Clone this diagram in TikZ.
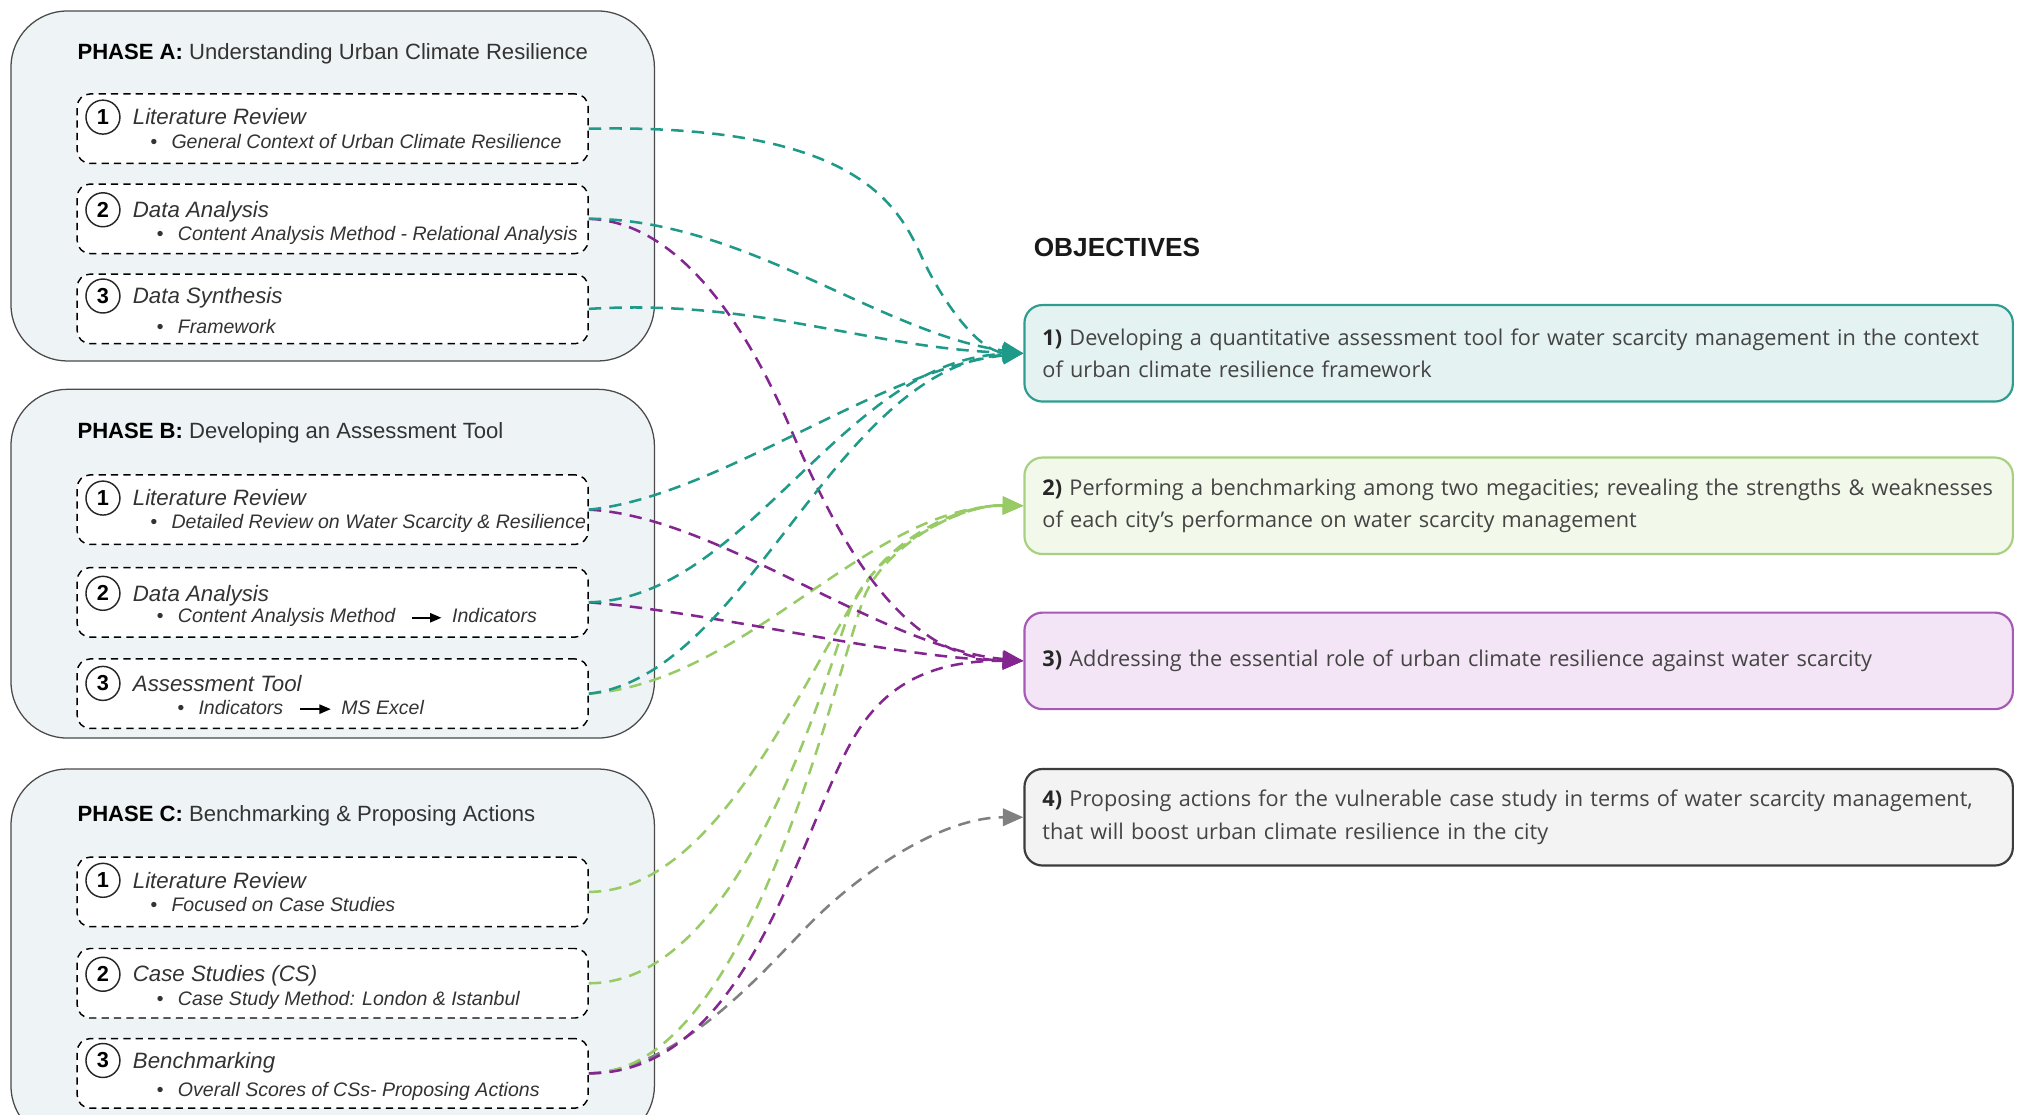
\documentclass[tikz,border=0pt]{standalone}
\usepackage{fontspec}
\setmainfont{Liberation Sans}
\newfontfamily\objfont{Open Sans}
\usetikzlibrary{arrows.meta}
\definecolor{phasefill}{HTML}{EEF3F6}
\definecolor{phaseline}{HTML}{4A4A4A}
\definecolor{textgray}{HTML}{333333}
\definecolor{objtext}{HTML}{444444}
\definecolor{tealline}{HTML}{1F9A88}
\definecolor{greenline}{HTML}{98CB66}
\definecolor{purpleline}{HTML}{83268F}
\definecolor{grayline}{HTML}{808080}
\definecolor{oonefill}{HTML}{E4F3F1}
\definecolor{oonedraw}{HTML}{2E9C8E}
\definecolor{otwofill}{HTML}{F2F8EA}
\definecolor{otwodraw}{HTML}{A7D180}
\definecolor{othreefill}{HTML}{F3E5F6}
\definecolor{othreedraw}{HTML}{A659B7}
\definecolor{ofourfill}{HTML}{F3F3F3}
\definecolor{ofourdraw}{HTML}{3C3C3C}
\begin{document}
\begin{tikzpicture}[x=0.25mm,y=-0.25mm,
  phase/.style={draw=phaseline, fill=phasefill, line width=0.7pt, rounded corners=11mm, anchor=north west, minimum width=125mm},
  stepbox/.style={draw=black, fill=white, line width=0.8pt, dash pattern=on 1.4mm off 1mm, rounded corners=2.5mm, minimum width=99.25mm, minimum height=13.5mm},
  numcirc/.style={circle, draw=black!85, line width=0.8pt, minimum size=6.6mm, inner sep=0pt, font=\bfseries\fontsize{12}{12}\selectfont},
  phasetitle/.style={anchor=base west, inner sep=0pt, text=textgray, font=\fontsize{12.2}{14}\selectfont},
  steptitle/.style={anchor=base west, inner sep=0pt, text=textgray, font=\itshape\fontsize{12.3}{14}\selectfont},
  steptext/.style={anchor=base west, inner sep=0pt, text=textgray, font=\itshape\fontsize{10.8}{13}\selectfont},
  bullet/.style={steptext, execute at begin node={\llap{\textbullet\hspace{2.8mm}}}},
  inarrow/.style={line width=0.9pt, -{Triangle[length=2.2mm,width=1.8mm]}},
  objbox/.style={rounded corners=3.5mm, line width=1.2pt, minimum width=191.5mm, minimum height=18.75mm, text width=185mm, inner xsep=3.5mm, align=left, text=objtext, font=\objfont\fontsize{12}{17.8}\selectfont},
  link/.style={line width=1.4pt, dash pattern=on 2.4mm off 1.6mm, -{Triangle[length=4mm,width=3.4mm]}}
]
\useasboundingbox (0,0) rectangle (1568,866);

\node[phase, minimum height=68mm] (phaseA) at (8,8) {};
\node[phase, minimum height=67.75mm] (phaseB) at (8,302) {};
\node[phase, minimum height=72.5mm] (phaseC) at (8,597) {};

\node[phasetitle] (titleA) at (60,46) {\textcolor{black}{\bfseries PHASE A:} Understanding Urban Climate Resilience};
\node[phasetitle] (titleB) at (60,341) {\textcolor{black}{\bfseries PHASE B:} Developing an Assessment Tool};
\node[phasetitle] (titleC) at (60,638) {\textcolor{black}{\bfseries PHASE C:} Benchmarking \& Proposing Actions};

\node[stepbox] (a1) at (258.5,100) {};
\node[stepbox] (a2) at (258.5,170) {};
\node[stepbox] (a3) at (258.5,240) {};
\node[stepbox] (b1) at (258.5,396) {};
\node[stepbox] (b2) at (258.5,468) {};
\node[stepbox] (b3) at (258.5,539) {};
\node[stepbox] (c1) at (258.5,693) {};
\node[stepbox] (c2) at (258.5,764) {};
\node[stepbox] (c3) at (258.5,834) {};

\node[numcirc] (a1num) at (80,91) {1};
\node[numcirc] (a2num) at (80,163) {2};
\node[numcirc] (a3num) at (80,230) {3};
\node[numcirc] (b1num) at (80,387) {1};
\node[numcirc] (b2num) at (80,461) {2};
\node[numcirc] (b3num) at (80,531) {3};
\node[numcirc] (c1num) at (80,684) {1};
\node[numcirc] (c2num) at (80,757) {2};
\node[numcirc] (c3num) at (80,824) {3};

\node[steptitle] (a1title) at (103,97) {Literature Review};
\node[steptitle] (a2title) at (103,169) {Data Analysis};
\node[steptitle] (a3title) at (103,236) {Data Synthesis};
\node[steptitle] (b1title) at (103,393) {Literature Review};
\node[steptitle] (b2title) at (103,467) {Data Analysis};
\node[steptitle] (b3title) at (103,537) {Assessment Tool};
\node[steptitle] (c1title) at (103,690) {Literature Review};
\node[steptitle] (c2title) at (103,763) {Case Studies (CS)};
\node[steptitle] (c3title) at (103,830) {Benchmarking};

\node[bullet] (a1text) at (133,115) {General Context of Urban Climate Resilience};
\node[bullet] (a2text) at (138,187) {Content Analysis Method - Relational Analysis};
\node[bullet] (a3text) at (138,259) {Framework};
\node[bullet] (b1text) at (133,411) {Detailed Review on Water Scarcity \& Resilience};
\node[bullet] (b2text) at (138,484) {Content Analysis Method};
\node[steptext] (b2ind) at (351,484) {Indicators};
\node[bullet] (b3text) at (154,555) {Indicators};
\node[steptext] (b3excel) at (265,555) {MS Excel};
\node[bullet] (c1text) at (133,708) {Focused on Case Studies};
\node[bullet] (c2text) at (138,781) {Case Study Method: London \& Istanbul};
\node[bullet] (c3text) at (138,852) {Overall Scores of CSs- Proposing Actions};

\draw[inarrow, shorten <=3.2mm, shorten >=2mm] ([yshift=1mm]b2text.base east) -- ([yshift=1mm]b2ind.base west);
\draw[inarrow, shorten <=3.2mm, shorten >=2mm] ([yshift=1mm]b3text.base east) -- ([yshift=1mm]b3excel.base west);

\node[anchor=base west, inner sep=0pt, font=\bfseries\fontsize{14.5}{16}\selectfont, text=black!90] (objtitle) at (803,199) {OBJECTIVES};

\node[objbox, draw=oonedraw, fill=oonefill] (obj1) at (1180,274.5) {\textbf{\color{black!85}1)} Developing a quantitative assessment tool for water scarcity management in the context\\of urban climate resilience framework};
\node[objbox, draw=otwodraw, fill=otwofill] (obj2) at (1180,393) {\textbf{\color{black!85}2)} Performing a benchmarking among two megacities; revealing the strengths \& weaknesses\\of each city’s performance on water scarcity management};
\node[objbox, draw=othreedraw, fill=othreefill] (obj3) at (1180,513.5) {\textbf{\color{black!85}3)} Addressing the essential role of urban climate resilience against water scarcity};
\node[objbox, draw=ofourdraw, fill=ofourfill] (obj4) at (1180,635) {\textbf{\color{black!85}4)} Proposing actions for the vulnerable case study in terms of water scarcity management,\\that will boost urban climate resilience in the city};

\draw[link, grayline] (c3.east) .. controls +(73,-3) and (597,750) .. (632,715) .. controls (667,680) and (730,635) .. (obj4.west);
\draw[link, greenline] (c1.east) .. controls +(103,0) and (628,515) .. (675,450) .. controls (698,417) and (745,392) .. (obj2.west);
\draw[link, greenline] (c2.east) .. controls +(118,0) and (640,531) .. (660,475) .. controls (675,433) and (740,392) .. (obj2.west);
\draw[link, greenline] (c3.east) .. controls +(118,0) and (639,563) .. (670,468) .. controls (682,430) and (740,392) .. (obj2.west);
\draw[link, greenline] (b3.east) .. controls +(123,-9) and +(-120,0) .. (obj2.west);
\draw[link, purpleline] (a2.east) .. controls +(88,3) and (600,300) .. (616,337) .. controls (652,420) and (700,512) .. (obj3.west);
\draw[link, purpleline] (c3.east) .. controls +(118,0) and (617,663) .. (658,583) .. controls (681,538) and (715,513) .. (obj3.west);
\draw[link, purpleline] (b1.east) .. controls +(100,5) and +(-110,-10) .. (obj3.west);
\draw[link, purpleline] (b2.east) .. controls +(100,8) and +(-100,-2) .. (obj3.west);
\draw[link, tealline] (a1.east) .. controls +(203,-4) and (696,156) .. (715,197) .. controls (731,233) and (760,273) .. (obj1.west);
\draw[link, tealline] (a2.east) .. controls +(120,0) and +(-110,-15) .. (obj1.west);
\draw[link, tealline] (b1.east) .. controls +(100,-10) and +(-110,12) .. (obj1.west);
\draw[link, tealline] (b2.east) .. controls +(123,-3) and +(-140,5) .. (obj1.west);
\draw[link, tealline] (b3.east) .. controls +(123,-14) and +(-147,12) .. (obj1.west);
\draw[link, tealline] (a3.east) .. controls +(130,-8) and +(-120,-4) .. (obj1.west);
\end{tikzpicture}
\end{document}
